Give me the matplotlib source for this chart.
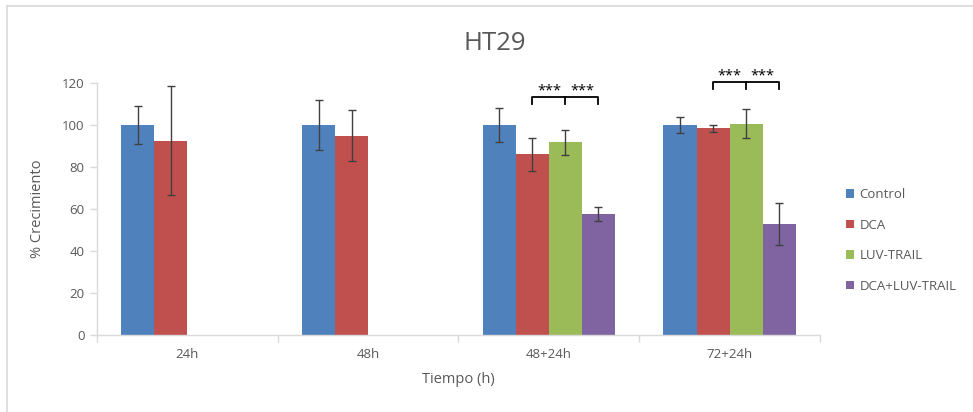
import matplotlib.pyplot as plt
import numpy as np

# --- DATA ---
categories = ['24h', '48h', '48+24h', '72+24h']
series = ['Control', 'DCA', 'LUV-TRAIL', 'DCA+LUV-TRAIL']
control = [100, 100, 100, 100]
control_err = [9, 12, 8, 3.8]
dca = [92.5, 95, 86, 98.4]
dca_err = [26, 12, 8, 1.8]
luv = [np.nan, np.nan, 91.7, 100.6]
luv_err = [np.nan, np.nan, 6, 7]
combo = [np.nan, np.nan, 57.6, 52.7]
combo_err = [np.nan, np.nan, 3.4, 10]

colors = ['#4F81BD', '#C0504D', '#9BBB59', '#8064A2']
TXT = '#595959'
GRID = '#D9D9D9'

plt.rcParams['font.family'] = ['Open Sans', 'DejaVu Sans']

fig = plt.figure(figsize=(9.73, 4.12), dpi=100, facecolor='white')
ax = fig.add_axes([97 / 973, 1 - 335 / 412, (820 - 97) / 973, (335 - 83) / 412])

x = np.arange(len(categories))
w = 0.183
values = [control, dca, luv, combo]
errors = [control_err, dca_err, luv_err, combo_err]
for i, (vals, errs) in enumerate(zip(values, errors)):
    pos = x + (i - 1.5) * w
    ax.bar(pos, vals, w, color=colors[i], label=series[i], zorder=2)
    ax.errorbar(pos, vals, yerr=errs, fmt='none', ecolor='#404040', elinewidth=1.0,
                capsize=3, capthick=1.0, zorder=3)

ax.set_xlim(-0.5, len(categories) - 0.5)
ax.set_ylim(0, 120)
ax.set_yticks(range(0, 121, 20))
ax.set_xticks(x)
ax.set_xticklabels(categories)
ax.set_xticks(np.arange(-0.5, len(categories), 1), minor=True)
ax.tick_params(axis='x', which='major', length=0, colors=TXT, labelsize=9.5, pad=9)
ax.tick_params(axis='x', which='minor', length=5, color=GRID, width=1)
ax.tick_params(axis='y', length=5, color=GRID, width=1, labelcolor=TXT, labelsize=9.5, pad=4)
for s in ['top', 'right']:
    ax.spines[s].set_visible(False)
for s in ['left', 'bottom']:
    ax.spines[s].set_color(GRID)
    ax.spines[s].set_linewidth(1)

ax.set_xlabel('Tiempo (h)', color=TXT, fontsize=10.5, labelpad=8)
ax.set_ylabel('% Crecimiento', color=TXT, fontsize=10.5, labelpad=12)
fig.text(495 / 973, 1 - 43 / 412, 'HT29', ha='center', va='center', color=TXT, fontsize=18.5)


# significance brackets
def bracket(cat, y_bar, y_leg, y_star):
    p1 = cat + (1 - 1.5) * w
    p2 = cat + (2 - 1.5) * w
    p3 = cat + (3 - 1.5) * w
    kw = dict(color='black', lw=1.3, clip_on=False, zorder=4)
    ax.plot([p1, p1, p3, p3], [y_leg, y_bar, y_bar, y_leg], **kw)
    ax.plot([p2, p2], [y_bar, y_leg], **kw)
    for xs in [(p1 + p2) / 2, (p2 + p3) / 2]:
        ax.text(xs, y_star, '***', ha='center', va='center', fontsize=10.5,
                color='black', clip_on=False)


bracket(2, 113.3, 109.9, 116.0)
bracket(3, 120.5, 117.0, 123.2)

leg = fig.legend(loc='upper left', bbox_to_anchor=(841 / 973, 1 - 183 / 412), frameon=False,
                 fontsize=9.5, labelcolor=TXT, handlelength=0.6, handleheight=0.6,
                 handletextpad=0.4, labelspacing=1.32, borderaxespad=0)

# outer frame (left and top visible)
fig.add_artist(plt.Line2D([7 / 973, 7 / 973], [0, 1 - 6 / 412], color=GRID, lw=1.2))
fig.add_artist(plt.Line2D([7 / 973, 1], [1 - 6 / 412, 1 - 6 / 412], color=GRID, lw=1.2))

fig.savefig('out.png', dpi=100, facecolor='white')
